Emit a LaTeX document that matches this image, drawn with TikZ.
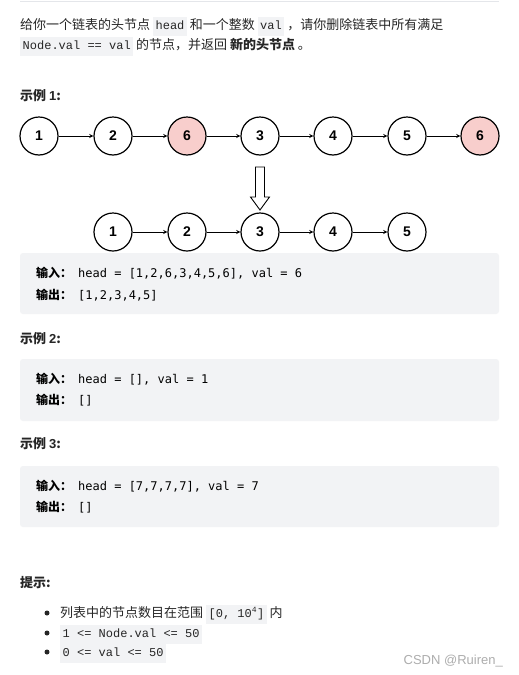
\documentclass[tikz,border=0pt]{standalone}
\usepackage{fontspec}
\setmainfont{Noto Sans CJK SC}
\newfontfamily\numfont{Liberation Sans}
\newfontfamily\boxmono{DejaVu Sans Mono}
\newfontfamily\inlinemono{Liberation Mono}
\newfontfamily\markfont{Liberation Sans}
\newfontfamily\cnfont{Noto Sans CJK SC}
\definecolor{textc}{HTML}{262626}
\definecolor{codebg}{HTML}{F2F3F5}
\definecolor{delfill}{HTML}{F8CECC}
\definecolor{rulec}{HTML}{E4E6EA}
\newcommand\icode[1]{{\setlength\fboxsep{2.5pt}\colorbox{codebg}{\inlinemono\fontsize{12}{14}\selectfont\strut #1}}}
\newcommand\lbl[1]{{\cnfont\bfseries #1}\hspace{6pt}}
\tikzset{
  txt/.style={anchor=base west, inner sep=0pt, text=textc, font=\fontsize{13}{16}\selectfont},
  boldtxt/.style={txt, font=\fontsize{13}{16}\selectfont\bfseries},
  listnode/.style={circle, draw, line width=1.2pt, minimum size=38pt, inner sep=0pt,
    font=\numfont\bfseries\fontsize{14}{16}\selectfont},
  delnode/.style={listnode, fill=delfill},
  codebox/.style={fill=codebg, rounded corners=3pt},
  codetxt/.style={anchor=base west, inner sep=0pt, text=black, font=\boxmono\fontsize{12}{14}\selectfont},
}
\begin{document}
\begin{tikzpicture}[x=1pt,y=-1pt]
  \useasboundingbox[fill=white] (0,0) rectangle (519,675);
  \draw[rulec, line width=0.8pt] (20,1.5) -- (499,1.5);
  % statement
  \node[txt] (intro1) at (20,29) {给你一个链表的头节点 \icode{head} 和一个整数 \icode{val} ，请你删除链表中所有满足};
  \node[txt] (intro2) at (20,49) {\icode{Node.val == val} 的节点，并返回 \textbf{新的头节点} 。};
  % example 1
  \node[boldtxt] (ex1) at (20,100) {示例 \textnormal{\numfont\bfseries 1}:};
  \node[listnode] (a1) at (39,136) {1};
  \node[listnode] (a2) at (113,136) {2};
  \node[delnode] (a3) at (187,136) {6};
  \node[listnode] (a4) at (260,136) {3};
  \node[listnode] (a5) at (333,136) {4};
  \node[listnode] (a6) at (407,136) {5};
  \node[delnode] (a7) at (480,136) {6};
  \node[listnode] (b1) at (113,232) {1};
  \node[listnode] (b2) at (187,232) {2};
  \node[listnode] (b3) at (260,232) {3};
  \node[listnode] (b4) at (333,232) {4};
  \node[listnode] (b5) at (407,232) {5};
  \begin{scope}[->, >=stealth, line width=0.9pt]
    \draw (a1) -- (a2);
    \draw (a2) -- (a3);
    \draw (a3) -- (a4);
    \draw (a4) -- (a5);
    \draw (a5) -- (a6);
    \draw (a6) -- (a7);
    \draw (b1) -- (b2);
    \draw (b2) -- (b3);
    \draw (b3) -- (b4);
    \draw (b4) -- (b5);
  \end{scope}
  % hollow arrow
  \draw[line width=0.9pt, fill=white] (255.5,167) -- (264.5,167) -- (264.5,197) -- (269.5,197)
    -- (260,210) -- (250.5,197) -- (255.5,197) -- cycle;
  \fill[codebox] (20,253) rectangle (499,314);
  \node[codetxt] (in1) at (36,277) {\lbl{输入：}head = [1,2,6,3,4,5,6], val = 6};
  \node[codetxt] (out1) at (36,299) {\lbl{输出：}[1,2,3,4,5]};
  % example 2
  \node[boldtxt] (ex2) at (20,343) {示例 \textnormal{\numfont\bfseries 2}:};
  \fill[codebox] (20,359) rectangle (499,421);
  \node[codetxt] (in2) at (36,383) {\lbl{输入：}head = [], val = 1};
  \node[codetxt] (out2) at (36,404) {\lbl{输出：}[]};
  % example 3
  \node[boldtxt] (ex3) at (20,448) {示例 \textnormal{\numfont\bfseries 3}:};
  \fill[codebox] (20,466) rectangle (499,527);
  \node[codetxt] (in3) at (36,490) {\lbl{输入：}head = [7,7,7,7], val = 7};
  \node[codetxt] (out3) at (36,511) {\lbl{输出：}[]};
  % hints
  \node[boldtxt] (hint) at (20,587) {提示:};
  \fill[textc] (47,613) circle (2.5pt);
  \fill[textc] (47,633) circle (2.5pt);
  \fill[textc] (47,652) circle (2.5pt);
  \node[txt] (h1) at (60,617) {列表中的节点数目在范围 \icode{[0, 10\textsuperscript{4}]} 内};
  \node[txt] (h2) at (60,637) {\icode{1 <= Node.val <= 50}};
  \node[txt] (h3) at (60,656) {\icode{0 <= val <= 50}};
  \node[anchor=base east, inner sep=0pt, text=black!32, font=\markfont\fontsize{13}{15}\selectfont] (mark) at (503,664) {CSDN @Ruiren\_};
\end{tikzpicture}
\end{document}
